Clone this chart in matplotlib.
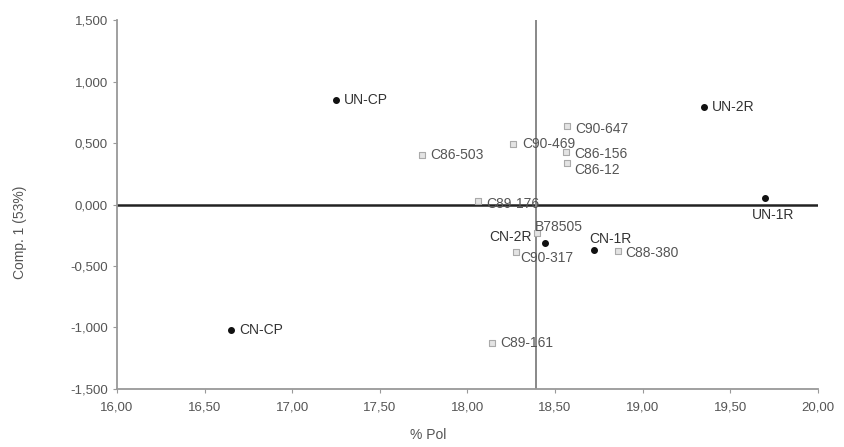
import matplotlib.pyplot as plt
from matplotlib.ticker import FuncFormatter

plt.rcParams['font.family'] = ['Liberation Sans', 'DejaVu Sans']

# parents (black dots)
parent_names = ['UN-CP', 'UN-2R', 'UN-1R', 'CN-CP', 'CN-2R', 'CN-1R']
parent_pol = [17.25, 19.35, 19.70, 16.65, 18.44, 18.72]
parent_comp = [0.85, 0.79, 0.05, -1.02, -0.31, -0.37]

# cultivars (grey squares)
clone_names = ['C90-647', 'C90-469', 'C86-503', 'C86-156', 'C86-12', 'C89-176',
               'B78505', 'C90-317', 'C88-380', 'C89-161']
clone_pol = [18.57, 18.26, 17.74, 18.56, 18.57, 18.06, 18.40, 18.28, 18.86, 18.14]
clone_comp = [0.64, 0.49, 0.40, 0.43, 0.34, 0.03, -0.23, -0.39, -0.38, -1.125]

# label offsets in points
parent_off = {'UN-CP': (6, 0), 'UN-2R': (6, 0), 'UN-1R': (-10, -12),
              'CN-CP': (6, 0), 'CN-2R': (-40, 4), 'CN-1R': (-3, 8)}
clone_off = {'C90-647': (6, -2), 'C90-469': (7, 0), 'C86-503': (6, 0),
             'C86-156': (6, -2), 'C86-12': (5, -5), 'C89-176': (6, -2),
             'B78505': (-2, 4), 'C90-317': (3, -4), 'C88-380': (5, -1),
             'C89-161': (6, 0)}

fig = plt.figure(figsize=(8.44, 4.47), dpi=100)
ax = fig.add_axes([0.1386, 0.1298, 0.8304, 0.8254])

ax.axhline(0, color='#222222', lw=1.8, zorder=1)
ax.axvline(18.39, color='#888888', lw=1.4, ymax=1.005, zorder=1)

ax.scatter(clone_pol, clone_comp, marker='s', s=14, facecolor='#e4e4e4',
           edgecolor='#aaaaaa', linewidth=0.8, zorder=3)
ax.scatter(parent_pol, parent_comp, marker='o', s=16, color='#111111', zorder=4)

for n, x, y in zip(clone_names, clone_pol, clone_comp):
    ax.annotate(n, (x, y), xytext=clone_off[n], textcoords='offset points',
                ha='left', va='center', fontsize=10, color='#555555', zorder=5)
for n, x, y in zip(parent_names, parent_pol, parent_comp):
    ax.annotate(n, (x, y), xytext=parent_off[n], textcoords='offset points',
                ha='left', va='center', fontsize=10, color='#333333', zorder=5)

ax.set_xlim(16, 20)
ax.set_ylim(-1.5, 1.5)
ax.set_xticks([16, 16.5, 17, 17.5, 18, 18.5, 19, 19.5, 20])
ax.set_yticks([-1.5, -1, -0.5, 0, 0.5, 1, 1.5])
ax.xaxis.set_major_formatter(FuncFormatter(lambda v, p: f'{v:.2f}'.replace('.', ',')))
ax.yaxis.set_major_formatter(FuncFormatter(lambda v, p: f'{v:.3f}'.replace('.', ',')))

for s in ['top', 'right']:
    ax.spines[s].set_visible(False)
for s in ['left', 'bottom']:
    ax.spines[s].set_color('#999999')
    ax.spines[s].set_linewidth(1.3)
ax.tick_params(axis='both', colors='#999999', labelcolor='#555555',
               labelsize=9.5, length=3)
ax.tick_params(axis='x', pad=6)

ax.set_ylabel('Comp. 1 (53%)', fontsize=10, color='#555555')
ax.yaxis.set_label_coords(-0.128, 0.425)
ax.set_xlabel('% Pol', fontsize=10, color='#555555')
ax.xaxis.set_label_coords(0.444, -0.105)

fig.savefig('out.png', dpi=100)
